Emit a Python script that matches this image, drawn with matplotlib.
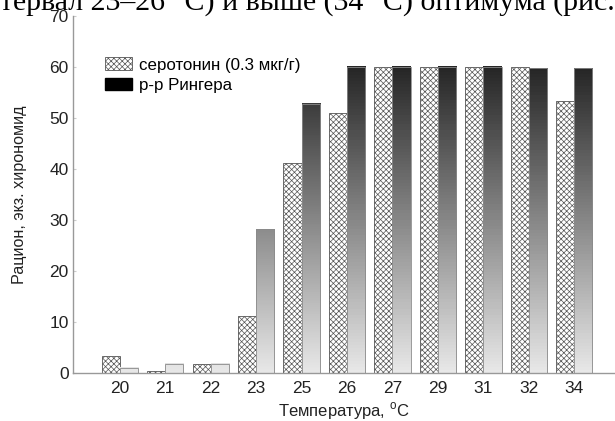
import numpy as np
import matplotlib
matplotlib.use('Agg')
from matplotlib import pyplot as plt
from matplotlib.colors import LinearSegmentedColormap
from matplotlib.patches import Patch

plt.rcParams['font.family'] = ['Liberation Sans', 'DejaVu Sans']
plt.rcParams['hatch.linewidth'] = 0.5

# данные
temps = ['20', '21', '22', '23', '25', '26', '27', '29', '31', '32', '34']
serotonin = [3.3, 0.3, 1.8, 11.2, 41.2, 51.0, 60.0, 60.0, 60.0, 60.0, 53.3]
ringer = [1.0, 1.8, 1.8, 28.2, 52.8, 60.0, 60.0, 60.0, 60.0, 59.8, 59.8]
labels = ['серотонин (0.3 мкг/г)', 'р-р Рингера']

fig = plt.figure(figsize=(6.15, 4.21), dpi=100)
ax = fig.add_axes([0.1187, 0.114, 0.8793, 0.848])

x = np.arange(len(temps))
w = 0.4
grad = LinearSegmentedColormap.from_list('g', ['#e8e8e8', '#262626'])

ax.bar(x - w / 2, serotonin, w, facecolor='white', edgecolor='#555555',
       hatch='xxxxxx', linewidth=0.6, label=labels[0])
b2 = ax.bar(x + w / 2, ringer, w, facecolor='none', edgecolor='#8a8a8a',
            linewidth=0.6, zorder=3)
# градиент внутри столбцов Рингера
for rect, h in zip(b2, ringer):
    g = np.linspace(0, h / 60.0, 100).reshape(-1, 1)
    ax.imshow(g, cmap=grad, vmin=0, vmax=1, origin='lower', aspect='auto',
              extent=[rect.get_x(), rect.get_x() + rect.get_width(), 0, h],
              zorder=2)

ax.set_xlim(-1.03, 10.87)
ax.set_ylim(0, 70)
ax.set_yticks(range(0, 71, 10))
ax.set_xticks(x)
ax.set_xticklabels(temps)
ax.tick_params(axis='x', length=0, pad=6, labelsize=12.5, colors='#222222')
ax.tick_params(axis='y', direction='in', length=2, pad=3, labelsize=12.5,
               colors='#cccccc', labelcolor='#222222')
for s in ['top', 'right']:
    ax.spines[s].set_visible(False)
for s in ['left', 'bottom']:
    ax.spines[s].set_color('#999999')
    ax.spines[s].set_linewidth(1)

ax.set_xlabel('Температура, $^{\\mathregular{o}}$C', fontsize=12, color='#222222', labelpad=3)
ax.set_ylabel('Рацион, экз. хирономид', fontsize=11.6, color='#222222', labelpad=16)

h1 = Patch(facecolor='white', edgecolor='#555555', hatch='xxxxxx', linewidth=0.6)
h2 = Patch(facecolor='black', edgecolor='black')
ax.legend([h1, h2], labels, loc='upper left', bbox_to_anchor=(0.059, 0.884),
          frameon=False, fontsize=12.2, handlelength=1.6, handleheight=0.75,
          handletextpad=0.4, borderpad=0, borderaxespad=0, labelspacing=0.3)

# обрезанная строка текста сверху
fig.text(0.0, 1 - 9.5 / 421, 'тервал 23–26 °С) и выше (34 °С) оптимума (рис.',
         family=['Liberation Serif', 'DejaVu Serif'], fontsize=21.5, va='baseline',
         ha='left', color='black')

fig.savefig('out.png', dpi=100)
